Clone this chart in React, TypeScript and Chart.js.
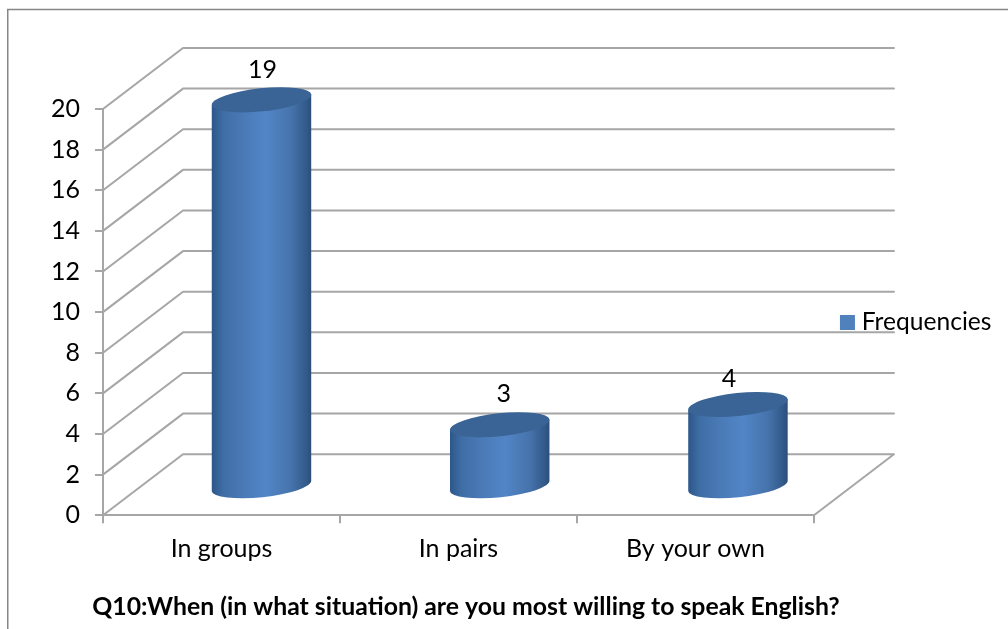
import { useEffect, useRef } from "react";
import { Chart, registerables } from "chart.js";

Chart.register(...registerables);

// Survey answers
const categories = ["In groups", "In pairs", "By your own"];
const seriesName = "Frequencies";
const frequencies = [19, 3, 4];
const chartTitle = "Q10:When (in what situation) are you most willing to speak English?";

// Isometric look of the chart box
const DEPTH_X = 80;
const DEPTH_Y = 61;
const GRID = "#a6a6a6";
const FONT = "Lato, Carlito, sans-serif";
const FONT_SIZE = 25;
const RX = 50;
const RY = 11.5;
const TILT = (-6 * Math.PI) / 180;
const labelShift = [{ x: 1, y: -30 }, { x: 4, y: -31 }, { x: -9, y: -26 }];

const cylinderPlugin = {
  id: "cylinders",
  afterLayout(chart: any) {
    // Slide the legend over the floor corner and centre the caption under the box
    const lg = chart.legend;
    lg.left += 21.5;
    lg.right += 21.5;
    lg.top -= 43;
    lg.bottom -= 43;
    chart.titleBlock.left -= 44;
    chart.titleBlock.right -= 44;
  },
  beforeDraw(chart: any) {
    const { ctx, width, height } = chart;
    ctx.save();
    ctx.fillStyle = "#fff";
    ctx.fillRect(0, 0, width, height);
    // Outer frame of the chart object
    ctx.strokeStyle = "#868686";
    ctx.lineWidth = 1.5;
    ctx.beginPath();
    ctx.moveTo(7.75, height);
    ctx.lineTo(7.75, 9.5);
    ctx.lineTo(width, 9.5);
    ctx.stroke();
    ctx.restore();
  },
  beforeDatasetsDraw(chart: any) {
    const { ctx, scales, chartArea } = chart;
    const y = scales.y;
    const { left, right } = chartArea;
    ctx.save();
    ctx.strokeStyle = GRID;
    ctx.lineWidth = 2;
    ctx.lineCap = "round";
    ctx.lineJoin = "round";
    for (const t of y.ticks) {
      const py = y.getPixelForValue(t.value);
      ctx.beginPath();
      ctx.moveTo(left, py);
      ctx.lineTo(left + DEPTH_X, py - DEPTH_Y);
      ctx.lineTo(right + DEPTH_X, py - DEPTH_Y);
      if (t.value === 0) {
        ctx.lineTo(right, py);
      }
      ctx.stroke();
    }
    ctx.restore();
  },
  beforeDatasetDraw(chart: any, args: any) {
    const { ctx, scales } = chart;
    const x = scales.x;
    const y = scales.y;
    const values = chart.data.datasets[args.index].data as number[];
    values.forEach((v, i) => {
      // Cylinders stand half way into the floor
      const cx = x.getPixelForValue(i) + DEPTH_X / 2 + i * 1.25;
      const base = y.getPixelForValue(0) - DEPTH_Y / 2 + 1;
      const top = y.getPixelForValue(v) - DEPTH_Y / 2 + 1;
      const dx = RX * Math.cos(TILT);
      const dy = RX * Math.sin(TILT);

      const g = ctx.createLinearGradient(cx - RX, 0, cx + RX, 0);
      g.addColorStop(0, "#2c5688");
      g.addColorStop(0.12, "#3f6ea6");
      g.addColorStop(0.35, "#4b7cb9");
      g.addColorStop(0.55, "#5285c6");
      g.addColorStop(0.8, "#4673ab");
      g.addColorStop(0.95, "#325a8a");
      g.addColorStop(1, "#2b4d78");

      ctx.save();
      ctx.fillStyle = g;
      ctx.beginPath();
      ctx.moveTo(cx - dx, top - dy);
      ctx.lineTo(cx - dx, base - dy);
      ctx.ellipse(cx, base, RX, RY, TILT, Math.PI, 0, true);
      ctx.lineTo(cx + dx, top + dy);
      ctx.closePath();
      ctx.fill();

      ctx.fillStyle = "#3a6496";
      ctx.beginPath();
      ctx.ellipse(cx, top, RX, RY, TILT, 0, Math.PI * 2);
      ctx.fill();

      // Value caption over the cylinder
      ctx.fillStyle = "#000";
      ctx.font = `${FONT_SIZE}px ${FONT}`;
      ctx.textAlign = "center";
      ctx.textBaseline = "middle";
      ctx.fillText(String(v), cx + labelShift[i].x, top + labelShift[i].y);
      ctx.restore();
    });
    return false;
  },
};

export default function App() {
  const ref = useRef<HTMLCanvasElement>(null);
  useEffect(() => {
    const chart = new Chart(ref.current as HTMLCanvasElement, {
      type: "bar",
      data: {
        labels: categories,
        // The thick stroke round a tiny box gives the legend swatch its 15px square
        datasets: [{ label: seriesName, data: frequencies, backgroundColor: "#4f81bd", borderColor: "#4f81bd", borderWidth: 11 }],
      },
      options: {
        responsive: false,
        animation: false,
        layout: { padding: { top: 109, left: 40, right: 28, bottom: 7 } },
        scales: {
          x: {
            offset: true,
            grid: { offset: true, drawOnChartArea: false, color: GRID, lineWidth: 2, tickLength: 8 },
            border: { color: GRID, width: 2 },
            ticks: { color: "#000", font: { family: FONT, size: FONT_SIZE }, padding: 11, maxRotation: 0 },
          },
          y: {
            min: 0,
            max: 20,
            afterFit(scale: any) {
              scale.width = 63;
            },
            grid: { drawOnChartArea: false, color: GRID, lineWidth: 2, tickLength: 8 },
            border: { color: GRID, width: 2 },
            ticks: { stepSize: 2, color: "#000", font: { family: FONT, size: FONT_SIZE }, padding: 15 },
          },
        },
        plugins: {
          tooltip: { enabled: false },
          legend: {
            position: "right",
            labels: {
              color: "#000",
              boxWidth: 4,
              boxHeight: 4,
              padding: 10,
              font: { family: FONT, size: 24.6 },
            },
          },
          title: {
            display: true,
            text: chartTitle,
            position: "bottom",
            fullSize: true,
            color: "#000",
            font: { family: FONT, size: 24.8, weight: "bold" },
            padding: { top: 17, bottom: 0 },
          },
        },
      },
      plugins: [cylinderPlugin],
    } as any);
    return () => chart.destroy();
  }, []);
  return (
    <div style={{ position: "absolute", left: 0, top: 0, width: 1008, height: 629, overflow: "hidden" }}>
      <canvas ref={ref} width={1008} height={629} style={{ display: "block" }} />
    </div>
  );
}
